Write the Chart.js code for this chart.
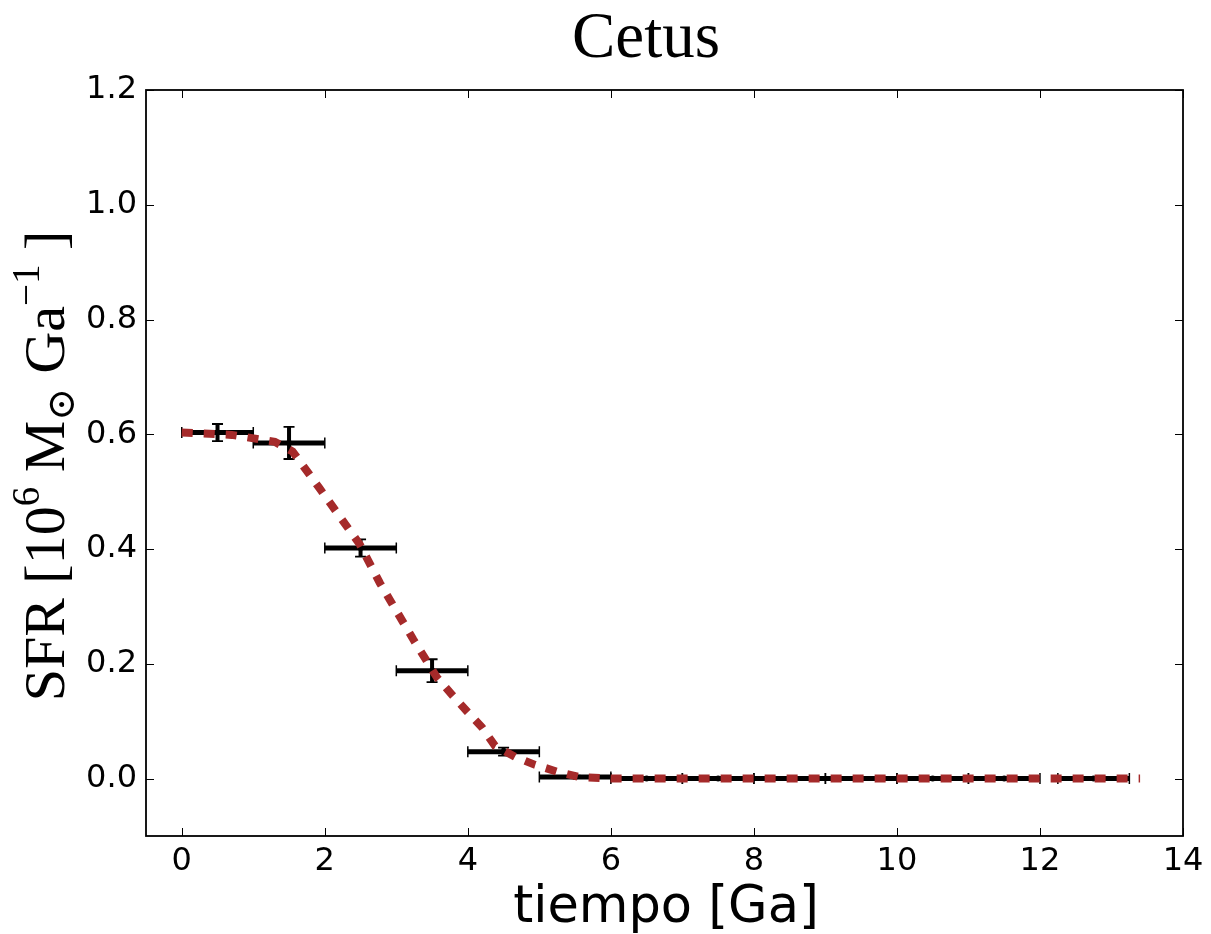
<!DOCTYPE html>
<html><head><meta charset="utf-8">
<script src="https://cdn.jsdelivr.net/npm/chart.js@4/dist/chart.umd.min.js"></script>
<style>html,body{margin:0;padding:0;background:#fff}canvas{display:block}</style>
</head><body>
<canvas id="c" width="1211" height="934"></canvas>
<script>
// ---- data ----
const binLeft  = [0, 1, 2, 3, 4, 5, 6, 7, 8, 9, 10, 11, 12.25];
const binRight = [1, 2, 3, 4, 5, 6, 7, 8, 9, 10, 11, 12, 13.25];
const binCenter = [0.5, 1.5, 2.5, 3.5, 4.5, 5.5, 6.5, 7.5, 8.5, 9.5, 10.5, 11.5, 12.75];
const sfrValues = [0.603, 0.585, 0.402, 0.188, 0.047, 0.003, 0, 0, 0, 0, 0, 0, 0];
const sfrErrors = [0.015, 0.028, 0.015, 0.020, 0.007, 0.002, 0.001, 0.001, 0.001, 0.001, 0.001, 0.001, 0.001];
const modelX = [0, 0.7, 1.3, 1.55, 1.92, 2.49, 2.77, 3.24, 3.57, 3.78, 3.99, 4.2, 4.38, 4.66, 4.94, 5.25, 5.55, 6.0, 13.4];
const modelY = [0.603, 0.599, 0.587, 0.570, 0.507, 0.408, 0.341, 0.242, 0.176, 0.146, 0.117, 0.089, 0.057, 0.038, 0.024, 0.012, 0.003, 0.0, 0.0];
const xTicks = [0, 2, 4, 6, 8, 10, 12, 14];
const yTicks = [0.0, 0.2, 0.4, 0.6, 0.8, 1.0, 1.2];
const titleText = 'Cetus';
const xLabelText = 'tiempo [Ga]';

const SERIF = '"Liberation Serif", "DejaVu Serif", serif';
const SANS = '"DejaVu Sans", sans-serif';

const errorBarPlugin = {
  id: 'errorBars',
  beforeDatasetsDraw(chart) {
    const {ctx, scales: {x, y}} = chart;
    ctx.save();
    ctx.strokeStyle = '#000';
    for (let i = 0; i < sfrValues.length; i++) {
      const x0 = x.getPixelForValue(binLeft[i]);
      const x1 = x.getPixelForValue(binRight[i]);
      const xc = x.getPixelForValue(binCenter[i]);
      const yv = y.getPixelForValue(sfrValues[i]);
      const yt = y.getPixelForValue(sfrValues[i] + sfrErrors[i]);
      const yb = y.getPixelForValue(sfrValues[i] - sfrErrors[i]);
      ctx.lineWidth = 5; ctx.lineCap = 'butt';
      ctx.beginPath(); ctx.moveTo(x0, yv); ctx.lineTo(x1, yv); ctx.stroke();
      ctx.lineWidth = 1.5;
      ctx.beginPath(); ctx.moveTo(x0, yv - 5.5); ctx.lineTo(x0, yv + 5.5);
      ctx.moveTo(x1, yv - 5.5); ctx.lineTo(x1, yv + 5.5); ctx.stroke();
      ctx.lineWidth = 4;
      ctx.beginPath(); ctx.moveTo(xc, yt); ctx.lineTo(xc, yb); ctx.stroke();
      ctx.lineWidth = 1.8;
      ctx.beginPath(); ctx.moveTo(xc - 5.5, yt); ctx.lineTo(xc + 5.5, yt);
      ctx.moveTo(xc - 5.5, yb); ctx.lineTo(xc + 5.5, yb); ctx.stroke();
    }
    ctx.restore();
  }
};

const framePlugin = {
  id: 'frame',
  afterDraw(chart) {
    const {ctx, chartArea: a, scales: {x, y}} = chart;
    ctx.save();
    ctx.strokeStyle = '#000'; ctx.lineWidth = 1;
    ctx.beginPath();
    xTicks.forEach(v => {
      const px = Math.round(x.getPixelForValue(v)) + 0.5;
      ctx.moveTo(px, a.bottom); ctx.lineTo(px, a.bottom - 8);
      ctx.moveTo(px, a.top); ctx.lineTo(px, a.top + 8);
    });
    yTicks.forEach(v => {
      const py = Math.round(y.getPixelForValue(v)) + 0.5;
      ctx.moveTo(a.left, py); ctx.lineTo(a.left + 8, py);
      ctx.moveTo(a.right, py); ctx.lineTo(a.right - 8, py);
    });
    ctx.stroke();
    ctx.lineWidth = 1.8;
    ctx.strokeRect(a.left, a.top, a.right - a.left, a.bottom - a.top);
    ctx.fillStyle = '#000';
    ctx.textAlign = 'center'; ctx.textBaseline = 'alphabetic';
    ctx.font = '65px ' + SERIF;
    ctx.fillText(titleText, 646, 57);
    ctx.font = '51px ' + SANS;
    ctx.fillText(xLabelText, 666, 922);
    const main = 58, small = 39;
    const parts = [
      ['SFR [10', main, 0], ['6', small, -25], [' M', main, 0], ['\u2299', small, 10],
      [' Ga', main, 0], ['\u2212', small, -25], ['1', small, -25], [' ]', main, 0]
    ];
    let total = 0;
    parts.forEach(p => { ctx.font = p[1] + 'px ' + SERIF; total += ctx.measureText(p[0]).width; });
    ctx.translate(64, 466);
    ctx.rotate(-Math.PI / 2);
    ctx.textAlign = 'left';
    let cx = -total / 2;
    parts.forEach(p => {
      ctx.font = p[1] + 'px ' + SERIF;
      ctx.fillText(p[0], cx, p[2]);
      cx += ctx.measureText(p[0]).width;
    });
    ctx.restore();
  }
};

new Chart(document.getElementById('c'), {
  type: 'scatter',
  data: {
    datasets: [
      {
        label: 'modelo',
        data: modelX.map((v, i) => ({x: v, y: modelY[i]})),
        showLine: true,
        borderColor: '#a52a2a',
        backgroundColor: '#a52a2a',
        borderWidth: 8,
        borderDash: [11, 11],
        borderCapStyle: 'butt',
        pointRadius: 0,
        tension: 0,
        fill: false
      },
      {
        label: 'SFR',
        data: binCenter.map((v, i) => ({x: v, y: sfrValues[i]})),
        showLine: false,
        pointRadius: 3,
        pointBackgroundColor: '#000',
        pointBorderColor: '#000',
        pointBorderWidth: 0
      }
    ]
  },
  options: {
    responsive: false,
    animation: false,
    devicePixelRatio: 1,
    layout: {padding: {left: 0, right: 28, top: 90, bottom: 0}},
    plugins: {legend: {display: false}, tooltip: {enabled: false}, title: {display: false}},
    scales: {
      x: {
        type: 'linear', min: -0.5, max: 14,
        afterBuildTicks: s => { s.ticks = xTicks.map(v => ({value: v})); },
        afterFit: s => { s.height = 98; },
        grid: {display: false, drawTicks: false},
        border: {display: false},
        ticks: {color: '#000', font: {family: SANS, size: 32}, padding: 6, maxRotation: 0,
                callback: v => String(v)}
      },
      y: {
        type: 'linear', min: -0.1, max: 1.2,
        afterBuildTicks: s => { s.ticks = yTicks.map(v => ({value: v})); },
        afterFit: s => { s.width = 146; },
        grid: {display: false, drawTicks: false},
        border: {display: false},
        ticks: {color: '#000', font: {family: SANS, size: 32}, padding: 9,
                callback: v => Number(v).toFixed(1)}
      }
    }
  },
  plugins: [errorBarPlugin, framePlugin]
});
</script>
</body></html>
